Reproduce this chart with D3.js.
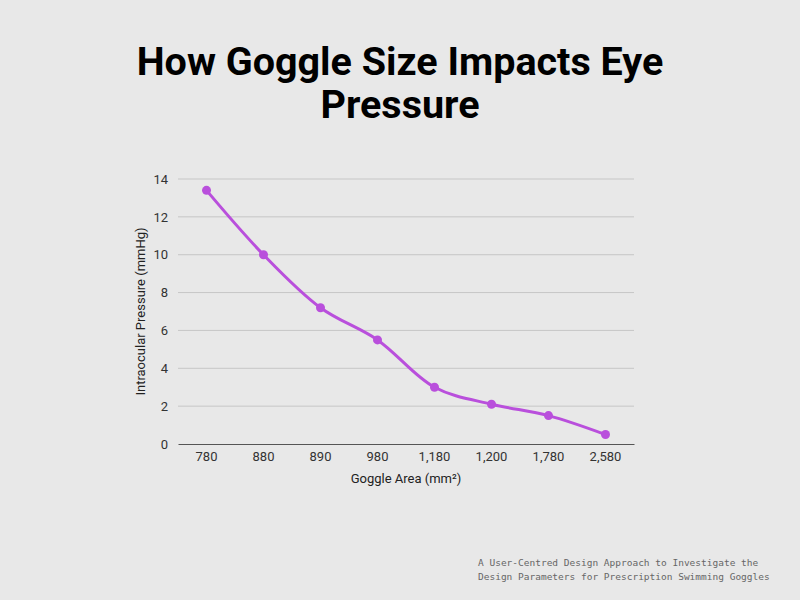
<!DOCTYPE html>
<html>
<head>
<meta charset="utf-8">
<script src="https://cdn.jsdelivr.net/npm/d3@7"></script>
<style>
html,body{margin:0;padding:0;background:#e8e8e8;}
svg{display:block;}
</style>
</head>
<body>
<svg id="chart" width="800" height="600"></svg>
<script>
const categories = ["780","880","890","980","1,180","1,200","1,780","2,580"];
const pressure = [13.4, 10, 7.2, 5.5, 3.0, 2.1, 1.5, 0.5];
const yTicks = [0,2,4,6,8,10,12,14];
const titleLines = ["How Goggle Size Impacts Eye","Pressure"];
const sourceLines = ["A User-Centred Design Approach to Investigate the","Design Parameters for Prescription Swimming Goggles"];

(function(){
const svg = d3.select("#chart");
svg.append("rect").attr("width",800).attr("height",600).attr("fill","#e8e8e8");

const pLeft = 178, pRight = 634, pTop = 179, pBottom = 444;
const x = d3.scaleBand().domain(categories).range([pLeft,pRight]);
const y = d3.scaleLinear().domain([0,14]).range([pBottom,pTop]);

// title
svg.append("g").selectAll("text").data(titleLines).join("text")
  .attr("x",400).attr("y",(d,i)=>75+i*43)
  .attr("text-anchor","middle")
  .attr("font-family","Roboto")
  .attr("font-weight","bold")
  .attr("font-size",39.5)
  .attr("fill","#000")
  .text(d=>d);

// grid
svg.append("g").selectAll("line").data(yTicks.filter(d=>d>0)).join("line")
  .attr("x1",pLeft).attr("x2",pRight)
  .attr("y1",d=>y(d)).attr("y2",d=>y(d))
  .attr("stroke","#c6c6c6").attr("stroke-width",1);

// y axis
const yAxis = svg.append("g").attr("transform",`translate(${pLeft},0)`)
  .call(d3.axisLeft(y).tickValues(yTicks).tickSize(0).tickPadding(10));
yAxis.select(".domain").remove();
yAxis.selectAll("text").attr("font-family","Roboto").attr("font-size",13).attr("fill","#333");

// x axis
const xAxis = svg.append("g").attr("transform",`translate(0,${pBottom})`)
  .call(d3.axisBottom(x).tickSize(0).tickPadding(8));
xAxis.select(".domain").attr("stroke","#555").attr("stroke-width",1);
xAxis.selectAll("text").attr("font-family","Roboto").attr("font-size",13).attr("fill","#333");

// axis titles
svg.append("text").attr("x",(pLeft+pRight)/2).attr("y",483)
  .attr("text-anchor","middle").attr("font-family","Roboto").attr("font-size",13).attr("fill","#222")
  .text("Goggle Area (mm²)");
svg.append("text").attr("transform",`translate(145,${(pTop+pBottom)/2}) rotate(-90)`)
  .attr("text-anchor","middle").attr("font-family","Roboto").attr("font-size",13).attr("fill","#222")
  .text("Intraocular Pressure (mmHg)");

const color = "#b94fdc";
const line = d3.line()
  .x((d,i)=>x(categories[i])+x.bandwidth()/2)
  .y(d=>y(d))
  .curve(d3.curveCatmullRom.alpha(0.5));
svg.append("path").datum(pressure).attr("d",line)
  .attr("fill","none").attr("stroke",color).attr("stroke-width",3).attr("stroke-linejoin","round");
svg.append("g").selectAll("circle").data(pressure).join("circle")
  .attr("cx",(d,i)=>x(categories[i])+x.bandwidth()/2)
  .attr("cy",d=>y(d)).attr("r",4.5).attr("fill",color);

// source
svg.append("g").selectAll("text").data(sourceLines).join("text")
  .attr("x",478).attr("y",(d,i)=>566+i*14)
  .attr("font-family","DejaVu Sans Mono").attr("font-size",9.5).attr("fill","#666")
  .text(d=>d);
})();
</script>
</body>
</html>
